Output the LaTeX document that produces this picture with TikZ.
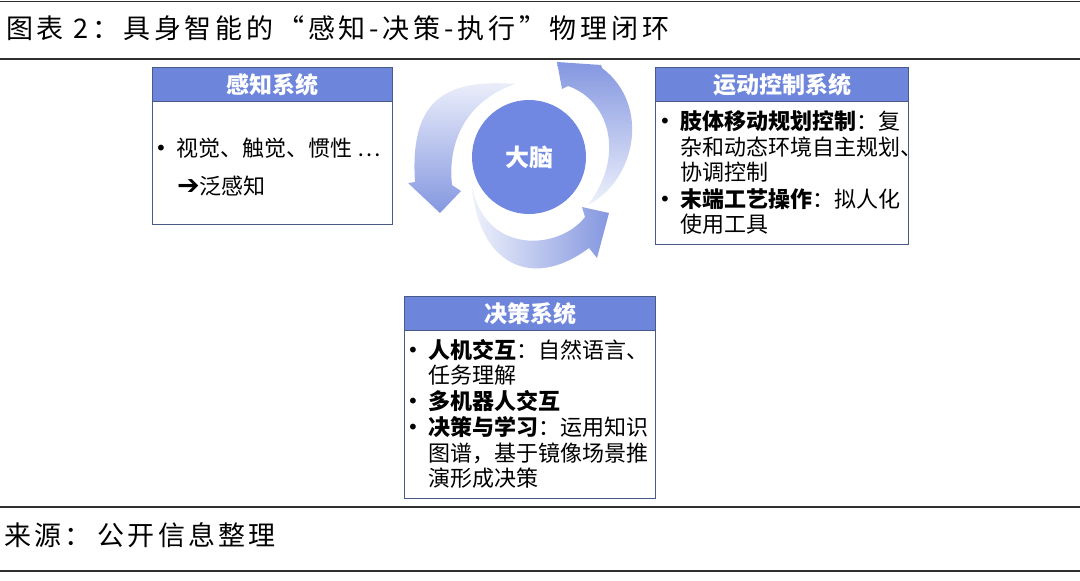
\documentclass[tikz,border=0pt]{standalone}
\usepackage{fontspec}
\setmainfont{Noto Sans CJK SC}
\newfontfamily\djv{DejaVu Sans}
\newfontfamily\titlefont[LetterSpace=14]{Noto Sans CJK SC}
\newfontfamily\sourcefont[LetterSpace=12]{Noto Sans CJK SC}
\definecolor{hdrblue}{HTML}{6D85DA}
\definecolor{brainblue}{HTML}{7088E2}
\definecolor{boxline}{HTML}{4A5A86}
\definecolor{arrdark}{HTML}{8497E0}
\definecolor{arrlight}{HTML}{EEF1FB}
\definecolor{rulegray}{HTML}{303030}
\begin{document}
\begin{tikzpicture}[x=1pt,y=-1pt,
  rulestyle/.style={draw=rulegray, line width=2pt},
  sysbox/.style={draw=boxline, line width=1.3pt, fill=white, anchor=north west, inner sep=0pt},
  hdr/.style={draw=boxline, line width=1.3pt, fill=hdrblue, anchor=north west, inner sep=0pt,
     text=white, font=\fontsize{23}{26}\selectfont\bfseries},
  body/.style={anchor=base west, inner sep=0pt, font=\fontsize{22}{24}\selectfont},
  bul/.style={anchor=base west, inner sep=0pt, font=\fontsize{20}{24}\selectfont\djv},
  brain/.style={circle, fill=brainblue, minimum size=114pt, inner sep=0pt, text=white,
     font=\fontsize{24}{26}\selectfont\bfseries},
  cycarrow/.style={draw=none}
]
\useasboundingbox (0,0) rectangle (1080,581);
\fill[white] (0,0) rectangle (1080,581);

% rules
\coordinate (r0l) at (0,1); \coordinate (r0r) at (1080,1);
\coordinate (r1l) at (0,59); \coordinate (r1r) at (1080,59);
\coordinate (r2l) at (0,507); \coordinate (r2r) at (1080,507);
\coordinate (r3l) at (0,571); \coordinate (r3r) at (1080,571);
\draw[rulestyle, line width=1pt] (r0l) -- (r0r);
\draw[rulestyle] (r1l) -- (r1r);
\draw[rulestyle] (r2l) -- (r2r);
\draw[rulestyle] (r3l) -- (r3r);

% title and source
\node[anchor=base west, inner sep=0pt, font=\fontsize{27}{30}\selectfont\titlefont] (title) at (6,38)
  {图表 2：具身智能的“感知-决策-执行”物理闭环};
\node[anchor=base west, inner sep=0pt, font=\fontsize{27}{30}\selectfont\sourcefont] (source) at (4,545)
  {来源：\hspace{6pt}公开信息整理};

% cyclic arrows
\shade[cycarrow, top color=arrlight, bottom color=arrdark]
  (515,84) .. controls (440,78) and (410,105) .. (415,182)
  -- (408,183) -- (440,213) -- (461,191) -- (452,185)
  .. controls (447,140) and (468,100) .. (515,84) -- cycle;
\shade[cycarrow, left color=arrlight, right color=arrdark]
  (472,186) .. controls (478,262) and (530,292) .. (589,248)
  -- (597,258) -- (609,213) -- (582,207) -- (585,217)
  .. controls (560,250) and (485,256) .. (472,186) -- cycle;
\shade[cycarrow, top color=arrdark, bottom color=arrlight]
  (588,205) .. controls (636,180) and (651,105) .. (602,68)
  -- (601,65) -- (557,62) -- (562,89) -- (568,86)
  .. controls (609,100) and (626,155) .. (588,205) -- cycle;

% brain
\node[brain] (brain) at (529,157) {大脑};

% perception box
\node[sysbox, minimum width=240pt, minimum height=157pt] (pbox) at (152,67) {};
\node[hdr, minimum width=240pt, minimum height=34pt] (phdr) at (152,67) {感知系统};
\node[bul] (p1b) at (155,155) {•};
\node[body] (p1) at (176,156) {视觉、触觉、惯性 …};
\node[body] (p2) at (177,194) {{\djv\bfseries\fontsize{27}{24}\selectfont ➔}泛感知};

% motion control box
\node[sysbox, minimum width=253pt, minimum height=177pt] (mbox) at (655,67) {};
\node[hdr, minimum width=253pt, minimum height=34pt] (mhdr) at (655,67) {运动控制系统};
\node[bul] (m1b) at (659,128) {•};
\node[body] (m1) at (680,129) {{\bfseries 肢体移动规划控制}：复};
\node[body] (m2) at (680,155) {杂和动态环境自主规划、};
\node[body] (m3) at (680,180) {协调控制};
\node[bul] (m4b) at (659,206) {•};
\node[body] (m4) at (680,207) {{\bfseries 末端工艺操作}：拟人化};
\node[body] (m5) at (680,232) {使用工具};

% decision box
\node[sysbox, minimum width=251pt, minimum height=202pt] (dbox) at (404,296) {};
\node[hdr, minimum width=251pt, minimum height=34pt] (dhdr) at (404,296) {决策系统};
\node[bul] (d1b) at (407,357) {•};
\node[body] (d1) at (428,358) {{\bfseries 人机交互}：自然语言、};
\node[body] (d2) at (428,383) {任务理解};
\node[bul] (d3b) at (407,408) {•};
\node[body] (d3) at (428,409) {{\bfseries 多机器人交互}};
\node[bul] (d4b) at (407,434) {•};
\node[body] (d4) at (428,435) {{\bfseries 决策与学习}：运用知识};
\node[body] (d5) at (428,461) {图谱，基于镜像场景推};
\node[body] (d6) at (428,486) {演形成决策};
\end{tikzpicture}
\end{document}
